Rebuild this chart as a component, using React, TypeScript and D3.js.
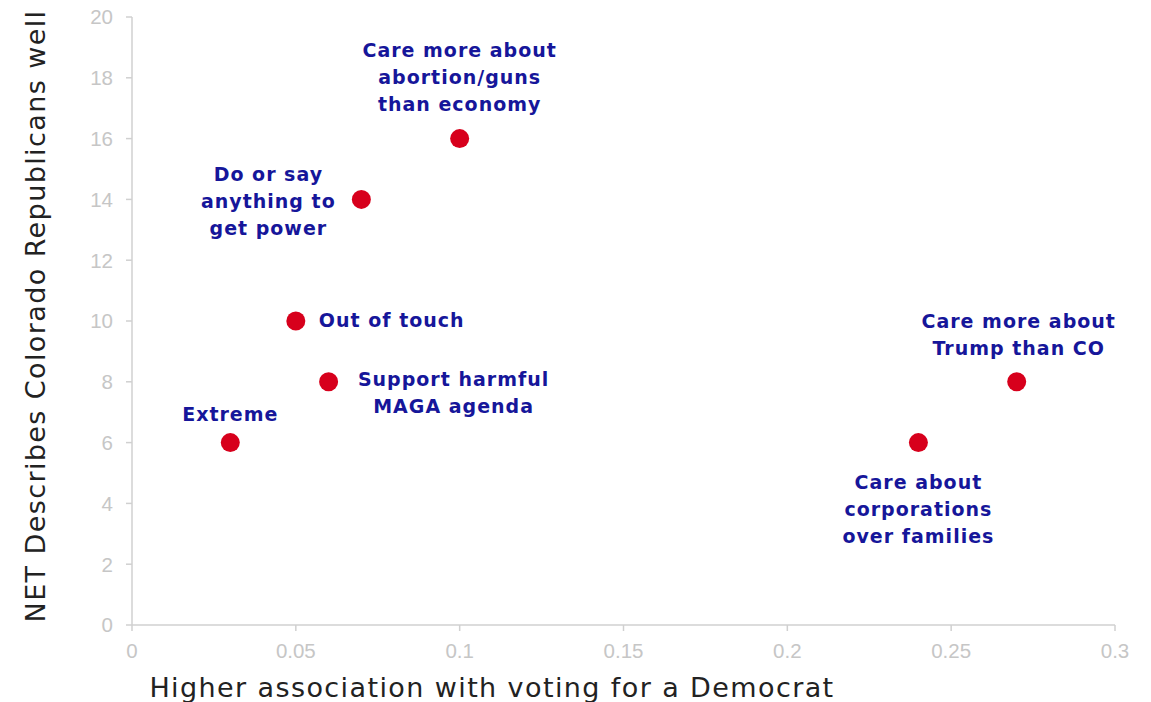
import React from 'react'
import * as d3 from 'd3'

// attributes and their scores (x = association with Dem vote, y = NET describes well)
const attributes = [
  'Extreme',
  'Out of touch',
  'Support harmful MAGA agenda',
  'Do or say anything to get power',
  'Care more about abortion/guns than economy',
  'Care about corporations over families',
  'Care more about Trump than CO',
]
const association = [0.03, 0.05, 0.06, 0.07, 0.1, 0.24, 0.27]
const netDescribes = [6, 10, 8, 14, 16, 6, 8]
const labelLines = [
  ['Extreme'],
  ['Out of touch'],
  ['Support harmful', 'MAGA agenda'],
  ['Do or say', 'anything to', 'get power'],
  ['Care more about', 'abortion/guns', 'than economy'],
  ['Care about', 'corporations', 'over families'],
  ['Care more about', 'Trump than CO'],
]
const xTicks = [0, 0.05, 0.1, 0.15, 0.2, 0.25, 0.3]
const yTicks = [0, 2, 4, 6, 8, 10, 12, 14, 16, 18, 20]

// label placement relative to the dot (px), first line centre
const placement: { dx: number, dy: number, anchor: string }[] = [
  { dx: 0, dy: -28, anchor: 'middle' },
  { dx: 23, dy: -1, anchor: 'start' },
  { dx: 125, dy: -3, anchor: 'middle' },
  { dx: -93, dy: -25, anchor: 'middle' },
  { dx: 0, dy: -88, anchor: 'middle' },
  { dx: 0, dy: 40, anchor: 'middle' },
  { dx: 2, dy: -61, anchor: 'middle' },
]

const W = 1151
const H = 702
const margin = { top: 17, right: 36, bottom: 77, left: 132 }
const axisColor = '#d0d0d0'
const tickColor = '#c6c6c6'
const labelColor = '#16169a'
const dotColor = '#d7001c'
const lineH = 27

export default function App() {
  const x = d3.scaleLinear().domain([0, 0.3]).range([margin.left, W - margin.right])
  const y = d3.scaleLinear().domain([0, 20]).range([H - margin.bottom, margin.top])
  const fmt = (v: number) => (v === 0 ? '0' : String(v))

  return (
    <svg width={W} height={H} style={{ position: 'absolute', left: 0, top: 0, background: '#fff' }}>
      {/* axes */}
      <line x1={x(0)} x2={x(0.3)} y1={y(0)} y2={y(0)} stroke={axisColor} strokeWidth={1.5} />
      <line x1={x(0)} x2={x(0)} y1={y(0)} y2={y(20)} stroke={axisColor} strokeWidth={1.5} />
      {xTicks.map(t => (
        <g key={'x' + t}>
          <line x1={x(t)} x2={x(t)} y1={y(0)} y2={y(0) + 6} stroke={axisColor} strokeWidth={1.5} />
          <text x={x(t)} y={y(0) + 33} textAnchor="middle" fill={tickColor}
            fontFamily="'Liberation Sans', Arial, sans-serif" fontSize={20.5}>{fmt(t)}</text>
        </g>
      ))}
      {yTicks.map(t => (
        <g key={'y' + t}>
          <line x1={x(0) - 6} x2={x(0)} y1={y(t)} y2={y(t)} stroke={axisColor} strokeWidth={1.5} />
          <text x={x(0) - 19} y={y(t)} dy="0.36em" textAnchor="end" fill={tickColor}
            fontFamily="'Liberation Sans', Arial, sans-serif" fontSize={20.5}>{t}</text>
        </g>
      ))}

      {/* axis titles */}
      <text x={492} y={697} textAnchor="middle" fill="#222" fontFamily="'DejaVu Sans', sans-serif"
        fontSize={27} letterSpacing={1.4}>Higher association with voting for a Democrat</text>
      <text transform={`translate(45,316) rotate(-90)`} textAnchor="middle" fill="#222"
        fontFamily="'DejaVu Sans', sans-serif" fontSize={27} letterSpacing={1.4}>NET Describes Colorado Republicans well</text>

      {/* dots */}
      {attributes.map((a, i) => (
        <circle key={a} cx={x(association[i])} cy={y(netDescribes[i])} r={9.5} fill={dotColor} />
      ))}

      {/* labels */}
      {attributes.map((a, i) => {
        const p = placement[i]
        return (
          <text key={'l' + a} x={x(association[i]) + p.dx} y={y(netDescribes[i]) + p.dy}
            textAnchor={p.anchor as any} fill={labelColor} fontFamily="'DejaVu Sans', sans-serif"
            fontWeight="bold" fontSize={19} letterSpacing={1}>
            {labelLines[i].map((ln, j) => (
              <tspan key={j} x={x(association[i]) + p.dx} dy={j === 0 ? '0.36em' : lineH}>{ln}</tspan>
            ))}
          </text>
        )
      })}
    </svg>
  )
}
